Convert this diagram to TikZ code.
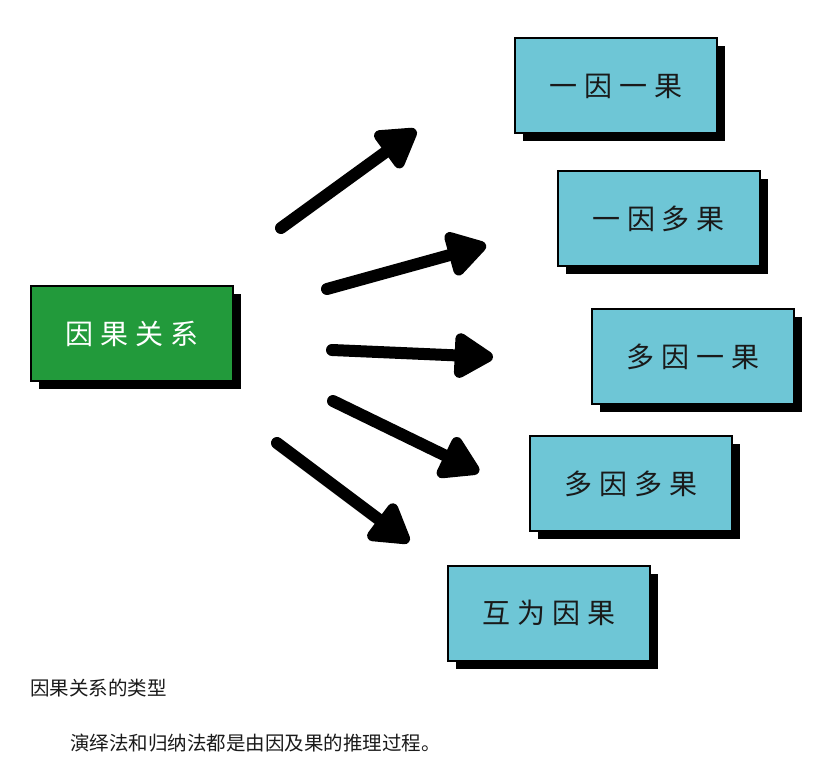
\documentclass[tikz,border=0pt]{standalone}
\usepackage{fontspec}
\newfontfamily\cjk{Noto Sans CJK SC}
\usetikzlibrary{arrows.meta}
\usetikzlibrary{shadows}
\usetikzlibrary{positioning}
\definecolor{cr-green}{HTML}{229A3B}
\definecolor{cr-blue}{HTML}{6EC6D6}
\definecolor{cr-text}{HTML}{1A1A1A}

\tikzset{
    kind/.style={draw=black, line width=2pt, fill=cr-blue, minimum width=202pt, minimum height=95pt,
        font=\cjk\fontsize{28}{30}\selectfont\addfontfeature{LetterSpace=24}, text=cr-text,
        drop shadow={shadow xshift=8pt, shadow yshift=-8pt, fill=black, opacity=1}},
    fat/.style={line width=12pt, line cap=round, -{Triangle[length=44pt, width=50pt, round]}},
}

\begin{document}
\begin{tikzpicture}[x=1pt, y=-1pt]
    \useasboundingbox (0, 0) rectangle (830, 781);

    % --- Source box ---
    \node[kind, fill=cr-green, text=white] (cause) at (132, 333.5) {因果关系};

    % --- Types ---
    \node[kind] (one-one) at (616, 86) {一因一果};
    \node[kind] (one-many) at (658.5, 218.5) {一因多果};
    \node[kind] (many-one) at (693, 356.5) {多因一果};
    \node[kind] (many-many) at (631, 483.5) {多因多果};
    \node[kind] (mutual) at (549, 613) {互为因果};

    % Arrow ends
    \coordinate (s1) at (281, 228);  \coordinate (e1) at (416, 130);
    \coordinate (s2) at (327, 289);  \coordinate (e2) at (486, 245);
    \coordinate (s3) at (332, 350);  \coordinate (e3) at (493, 357);
    \coordinate (s4) at (333, 401);  \coordinate (e4) at (479, 472);
    \coordinate (s5) at (277, 443);  \coordinate (e5) at (409, 542);

    \foreach \i in {1,...,5} {
        \draw[fat] (s\i) -- (e\i);
    }

    % Caption
    \node[anchor=west, inner sep=0pt, font=\cjk\fontsize{19.5}{21}\selectfont, text=cr-text] (title) at (30, 688) {因果关系的类型};
    \node[anchor=west, inner sep=0pt, font=\cjk\fontsize{19.5}{21}\selectfont, text=cr-text] (note) at (70, 743) {演绎法和归纳法都是由因及果的推理过程。};
\end{tikzpicture}
\end{document}
